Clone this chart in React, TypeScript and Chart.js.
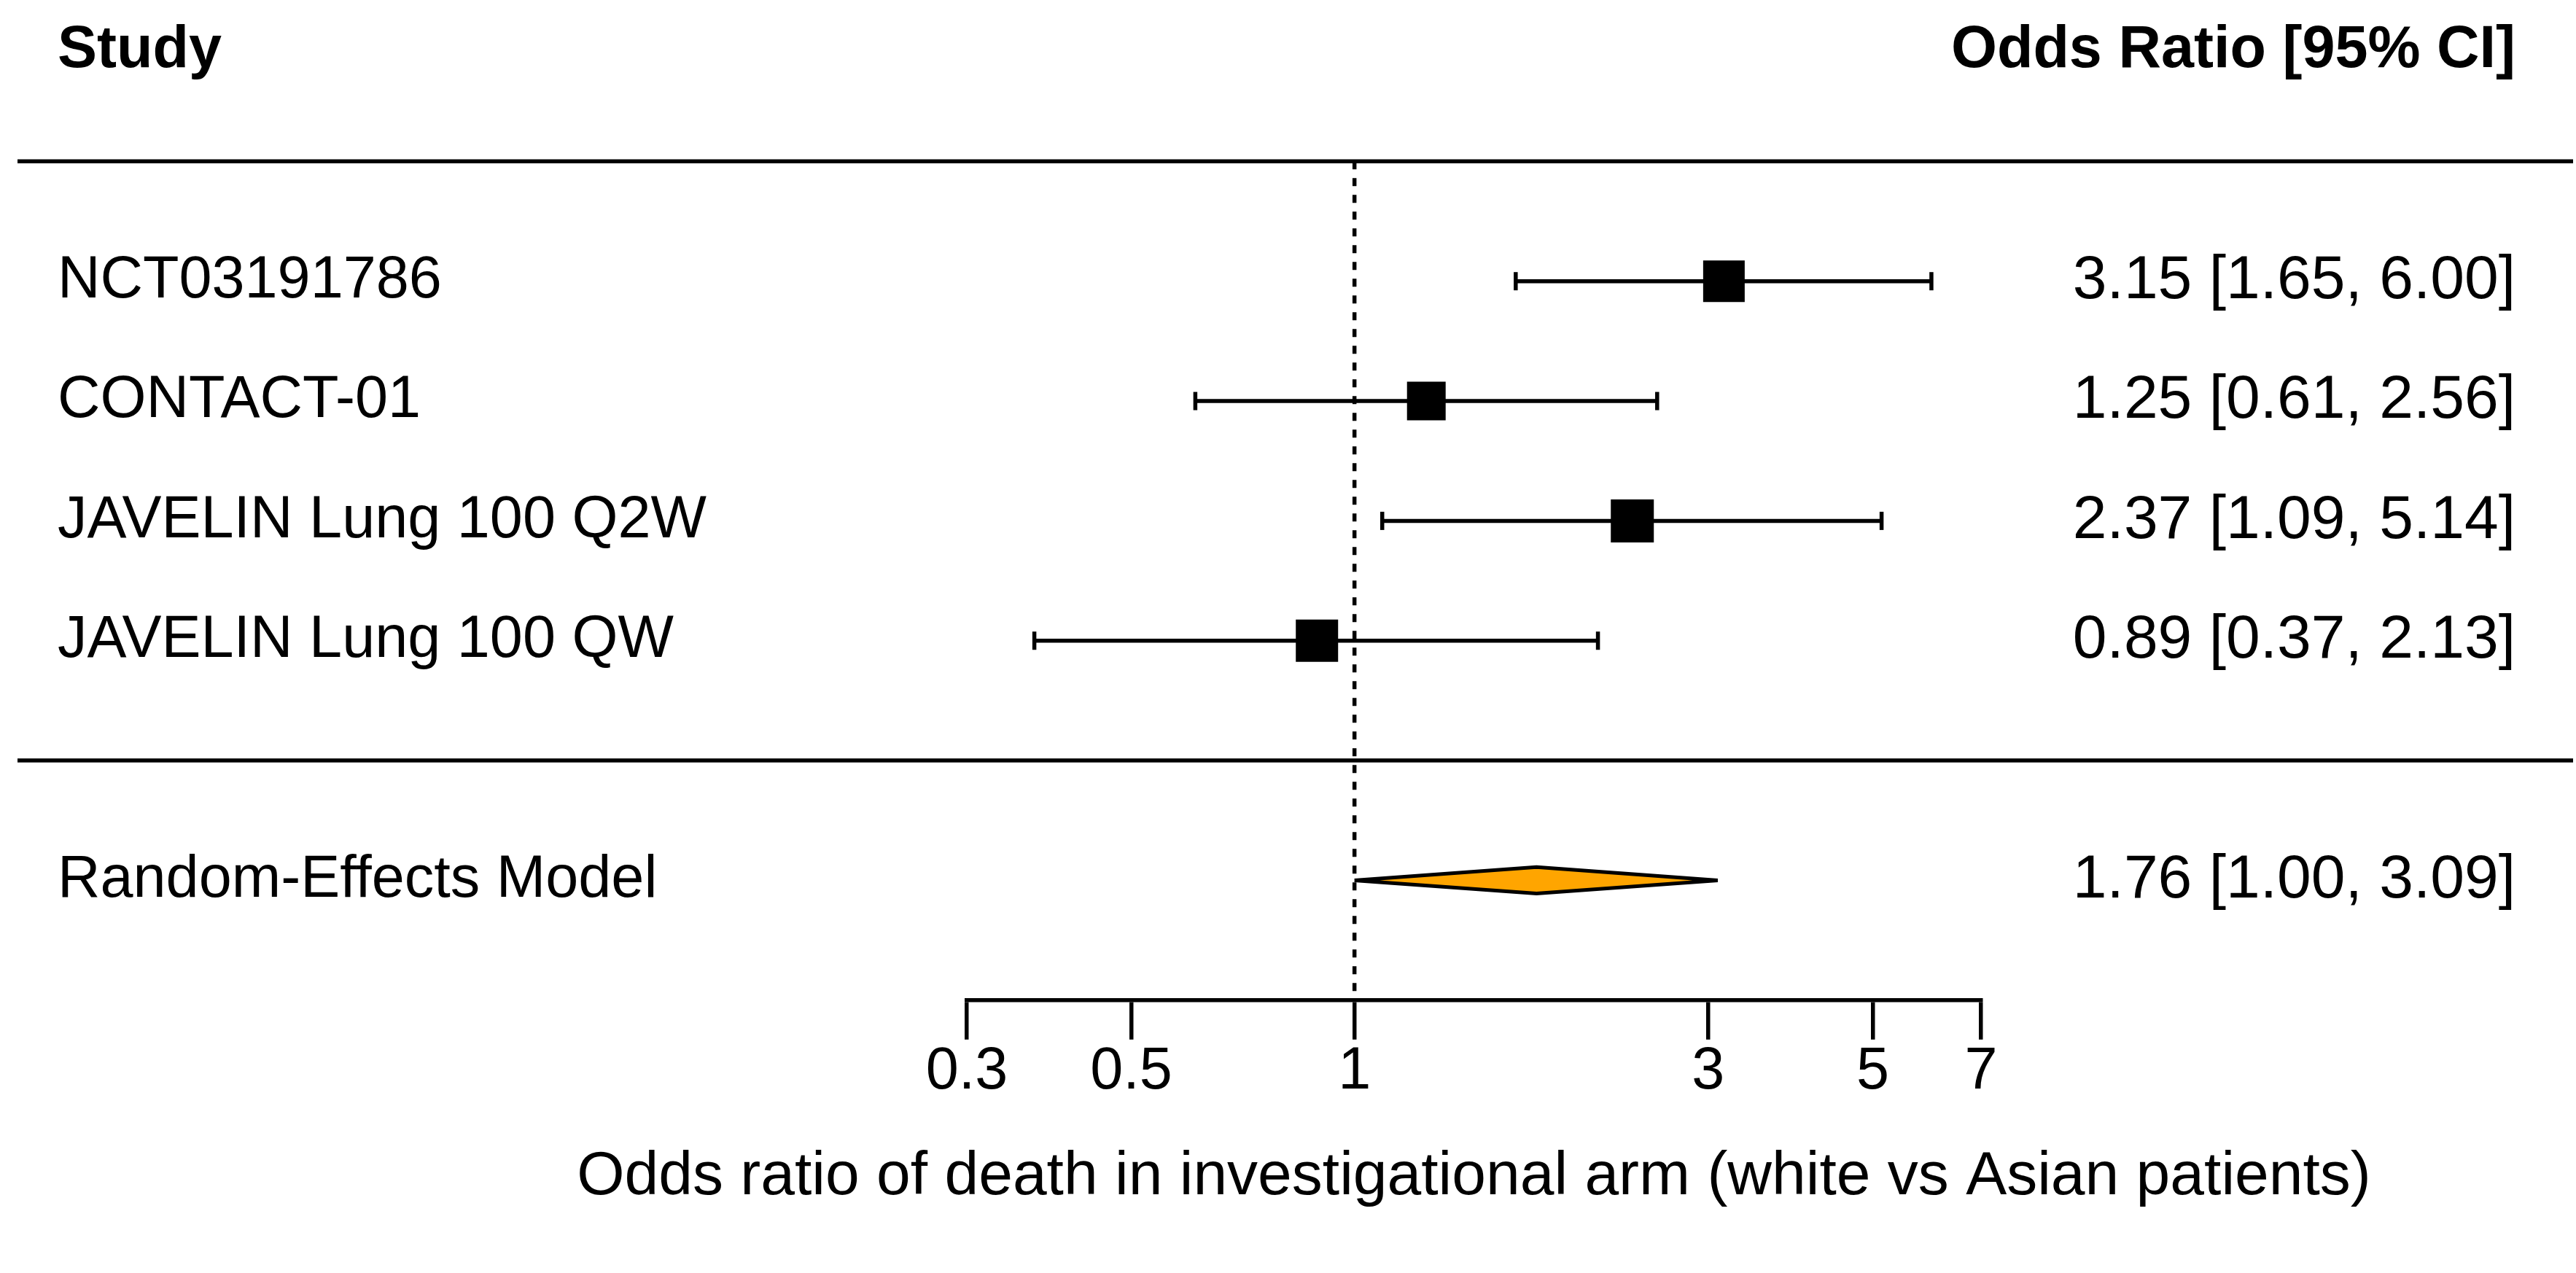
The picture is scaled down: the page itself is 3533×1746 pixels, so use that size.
import React, { useEffect, useRef } from "react";
import { Chart, registerables } from "chart.js";

Chart.register(...registerables);

// ---- data ----
const studyLabels = ["NCT03191786", "CONTACT-01", "JAVELIN Lung 100 Q2W", "JAVELIN Lung 100 QW"];
const studyEstimates = [3.15, 1.25, 2.37, 0.89];
const studyLower = [1.65, 0.61, 1.09, 0.37];
const studyUpper = [6.0, 2.56, 5.14, 2.13];
const studyCiText = ["3.15 [1.65, 6.00]", "1.25 [0.61, 2.56]", "2.37 [1.09, 5.14]", "0.89 [0.37, 2.13]"];

const summaryLabel = "Random-Effects Model";
const summaryEstimate = 1.76;
const summaryLower = 1.0;
const summaryUpper = 3.09;
const summaryCiText = "1.76 [1.00, 3.09]";

const xTickValues = [0.3, 0.5, 1, 3, 5, 7];
const xTickLabels = ["0.3", "0.5", "1", "3", "5", "7"];

const headerLeft = "Study";
const headerRight = "Odds Ratio [95% CI]";
const xAxisTitle = "Odds ratio of death in investigational arm (white vs Asian patients)";

// marker side lengths (px), proportional to study weights
const markerSizes = [57, 53, 59, 58];

// ---- layout / style ----
const W = 3533;
const H = 1746;
const FONT = "'Liberation Sans', Arial, Helvetica, sans-serif";
const FS = 81;
const FS_WIDE = 84;
const LW = 5.5;

const k = studyLabels.length;
const studyRows = studyLabels.map((_, i) => k - i); // 4,3,2,1
const topLineRow = k + 1;
const headerRow = k + 2;
const sepRow = 0;
const summaryRow = -1;
const axisRow = -2;
const diamondHalf = 0.11;

const forestPlugin = {
  id: "forestText",
  afterDatasetsDraw(chart: any) {
    const { ctx } = chart;
    const ys = chart.scales.y;
    const xs = chart.scales.x;
    const w = chart.width;
    const leftX = 79;
    const rightX = w - 83;
    ctx.save();
    ctx.strokeStyle = "#000";
    ctx.lineWidth = LW;
    [topLineRow, sepRow].forEach((r) => {
      const py = ys.getPixelForValue(r);
      ctx.beginPath();
      ctx.moveTo(24, py);
      ctx.lineTo(w - 4, py);
      ctx.stroke();
    });
    ctx.fillStyle = "#000";
    ctx.textBaseline = "middle";
    ctx.font = `bold ${FS}px ${FONT}`;
    const hy = ys.getPixelForValue(headerRow) + 13;
    ctx.textAlign = "left";
    ctx.fillText(headerLeft, leftX, hy);
    ctx.textAlign = "right";
    ctx.fillText(headerRight, rightX, hy);
    studyLabels.forEach((lab, i) => {
      const py = ys.getPixelForValue(studyRows[i]);
      ctx.font = `${FS}px ${FONT}`;
      ctx.textAlign = "left";
      ctx.fillText(lab, leftX, py);
      ctx.font = `${FS_WIDE}px ${FONT}`;
      ctx.textAlign = "right";
      ctx.fillText(studyCiText[i], rightX, py);
    });
    const sy = ys.getPixelForValue(summaryRow);
    ctx.font = `${FS}px ${FONT}`;
    ctx.textAlign = "left";
    ctx.fillText(summaryLabel, leftX, sy);
    ctx.font = `${FS_WIDE}px ${FONT}`;
    ctx.textAlign = "right";
    ctx.fillText(summaryCiText, rightX, sy);
    // axis title, centred under the axis
    ctx.textAlign = "center";
    ctx.fillText(xAxisTitle, (xs.left + xs.right) / 2, xs.bottom + 100);
    ctx.restore();
  },
};

export default function App() {
  const ref = useRef<HTMLCanvasElement>(null);

  useEffect(() => {
    const ciDatasets = studyLabels.map((lab, i) => ({
      label: lab + " CI",
      data: [
        { x: studyLower[i], y: studyRows[i] },
        { x: studyUpper[i], y: studyRows[i] },
      ],
      showLine: true,
      borderColor: "#000",
      borderWidth: LW,
      pointStyle: "line",
      pointRotation: 90,
      pointRadius: 12.5,
      pointBorderWidth: LW,
      pointBorderColor: "#000",
      pointBackgroundColor: "#000",
      order: 3,
      clip: false,
    }));

    const squares = {
      label: "Estimates",
      data: studyEstimates.map((v, i) => ({ x: v, y: studyRows[i] })),
      showLine: false,
      pointStyle: "rect",
      pointRadius: markerSizes.map((s) => s / (2 * Math.SQRT1_2)),
      pointBackgroundColor: "#000",
      pointBorderWidth: 0,
      pointBorderColor: "#000",
      order: 1,
      clip: false,
    };

    const diamond = {
      label: "Summary",
      data: [
        { x: summaryLower, y: summaryRow },
        { x: summaryEstimate, y: summaryRow + diamondHalf },
        { x: summaryUpper, y: summaryRow },
        { x: summaryEstimate, y: summaryRow - diamondHalf },
        { x: summaryLower, y: summaryRow },
      ],
      showLine: true,
      fill: "shape",
      backgroundColor: "#FFA500",
      borderColor: "#000",
      borderWidth: 5,
      borderJoinStyle: "miter",
      pointRadius: 0,
      tension: 0,
      order: 2,
      clip: false,
    };

    const refLine = {
      label: "Reference",
      data: [
        { x: 1, y: topLineRow },
        { x: 1, y: axisRow },
      ],
      showLine: true,
      borderColor: "#000",
      borderWidth: LW,
      borderDash: [11, 12],
      pointRadius: 0,
      order: 4,
      clip: false,
    };

    Chart.defaults.font.family = FONT;

    const chart = new Chart(ref.current as HTMLCanvasElement, {
      type: "scatter",
      data: { datasets: [squares, diamond, ...ciDatasets, refLine] as any },
      options: {
        animation: false,
        responsive: false,
        devicePixelRatio: 1,
        layout: { padding: { left: 1326, right: 816, top: 57, bottom: 231 } },
        plugins: {
          legend: { display: false },
          tooltip: { enabled: false },
          title: { display: false },
        },
        scales: {
          x: {
            type: "logarithmic",
            min: xTickValues[0],
            max: xTickValues[xTickValues.length - 1],
            position: "bottom",
            afterBuildTicks: (scale: any) => {
              scale.ticks = xTickValues.map((v) => ({ value: v }));
            },
            ticks: {
              autoSkip: false,
              maxRotation: 0,
              color: "#000",
              padding: -4,
              font: { size: FS, family: FONT },
              callback: (_v: any, i: number) => xTickLabels[i],
            },
            grid: {
              drawOnChartArea: false,
              drawTicks: true,
              tickLength: 54,
              tickWidth: LW,
              tickColor: "#000",
              color: "#000",
              lineWidth: LW,
            },
            border: { display: true, color: "#000", width: LW },
            title: { display: false },
          },
          y: {
            type: "linear",
            display: false,
            min: axisRow,
            max: headerRow,
          },
        },
      } as any,
      plugins: [forestPlugin],
    });
    return () => chart.destroy();
  }, []);

  return (
    <div style={{ position: "fixed", left: 0, top: 0, width: W, height: H, background: "#fff" }}>
      <canvas ref={ref} width={W} height={H} style={{ width: W, height: H, display: "block" }} />
    </div>
  );
}
